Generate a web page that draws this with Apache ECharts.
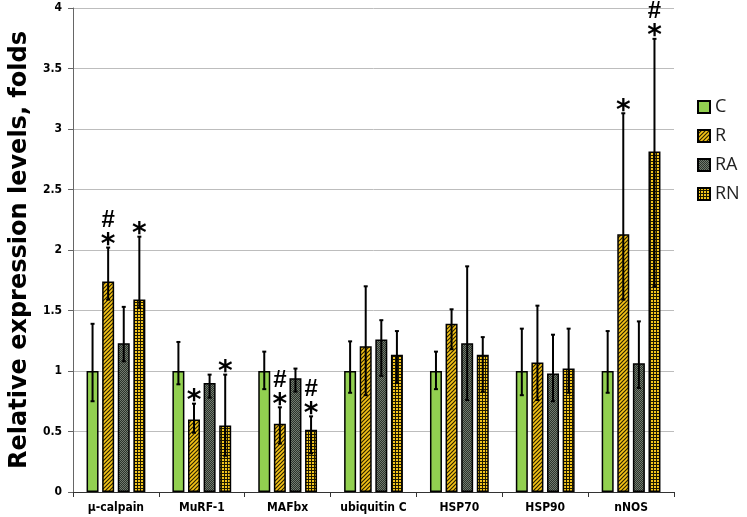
<!DOCTYPE html>
<html>
<head>
<meta charset="utf-8">
<script src="https://cdn.jsdelivr.net/npm/echarts@6/dist/echarts.min.js"></script>
<style>
  html, body { margin: 0; padding: 0; background: #fff; }
  #chart { width: 747px; height: 517px; }
</style>
</head>
<body>
<div id="chart"></div>
<script>
// categories and groups
const categories = ['μ-calpain', 'MuRF-1', 'MAFbx', 'ubiquitin C', 'HSP70', 'HSP90', 'nNOS']
const groups = ['C', 'R', 'RA', 'RN']

// bar heights (folds)
const valC  = [1.0, 1.0, 1.0, 1.0, 1.0, 1.0, 1.0]
const valR  = [1.74, 0.60, 0.565, 1.205, 1.39, 1.07, 2.13]
const valRA = [1.23, 0.90, 0.94, 1.26, 1.23, 0.98, 1.065]
const valRN = [1.59, 0.55, 0.515, 1.135, 1.135, 1.02, 2.815]

// error bar ends (upper / lower)
const topC  = [1.39, 1.24, 1.16, 1.245, 1.16, 1.35, 1.33]
const topR  = [2.02, 0.73, 0.70, 1.70, 1.51, 1.54, 3.13]
const topRA = [1.53, 0.97, 1.02, 1.42, 1.865, 1.30, 1.41]
const topRN = [2.11, 0.97, 0.625, 1.33, 1.28, 1.35, 3.745]
const lowC  = [0.75, 0.89, 0.85, 0.82, 0.85, 0.80, 0.82]
const lowR  = [1.59, 0.49, 0.40, 0.80, 1.18, 0.76, 1.59]
const lowRA = [1.08, 0.78, 0.83, 0.96, 0.76, 0.75, 0.86]
const lowRN = [1.52, 0.30, 0.32, 0.90, 0.83, 0.82, 1.70]

// significance marks above the bars
const marksC  = ['', '', '', '', '', '', '']
const marksR  = ['#*', '*', '#*', '', '', '', '*']
const marksRA = ['', '', '', '', '', '', '']
const marksRN = ['*', '*', '#*', '', '', '', '#*']

const values = [valC, valR, valRA, valRN]
const tops = [topC, topR, topRA, topRN]
const lows = [lowC, lowR, lowRA, lowRN]
const marks = [marksC, marksR, marksRA, marksRN]

const BAR_W = 12
const BAR_GAP = 3.6
const LABEL_FONT = '"DejaVu Sans Condensed", "DejaVu Sans"'

// fill patterns
function makePattern(kind) {
  const c = document.createElement('canvas')
  const ctx = c.getContext('2d')
  if (kind === 'stripe') {
    c.width = 4; c.height = 4
    ctx.fillStyle = '#f6c417'
    ctx.fillRect(0, 0, 4, 4)
    ctx.strokeStyle = '#2a2200'
    ctx.lineWidth = 1.2
    ctx.beginPath()
    ctx.moveTo(-1, 5); ctx.lineTo(5, -1)
    ctx.moveTo(-3, 3); ctx.lineTo(3, -3)
    ctx.moveTo(1, 7); ctx.lineTo(7, 1)
    ctx.stroke()
  } else if (kind === 'dark') {
    c.width = 2; c.height = 2
    ctx.fillStyle = '#2c342b'
    ctx.fillRect(0, 0, 2, 2)
    ctx.fillStyle = '#737b70'
    ctx.fillRect(0, 0, 1, 1)
    ctx.fillRect(1, 1, 1, 1)
  } else {
    c.width = 3; c.height = 3
    ctx.fillStyle = '#1e1a00'
    ctx.fillRect(0, 0, 3, 3)
    ctx.fillStyle = '#f4c51c'
    ctx.fillRect(0, 0, 2, 2)
  }
  return { image: c, repeat: 'repeat' }
}

const fills = ['#92d050', makePattern('stripe'), makePattern('dark'), makePattern('check')]

const errData = []
const errMarks = []
groups.forEach((g, gi) => {
  categories.forEach((cat, ci) => {
    errData.push([ci, lows[gi][ci], tops[gi][ci], gi])
    errMarks.push(marks[gi][ci])
  })
})

function renderErr(params, api) {
  const ci = api.value(0)
  const lo = api.value(1)
  const hi = api.value(2)
  const gi = api.value(3)
  const total = 4 * BAR_W + 3 * BAR_GAP
  const cx = api.coord([ci, 0])[0]
  const x = cx - total / 2 + gi * (BAR_W + BAR_GAP) + BAR_W / 2
  const yHi = api.coord([ci, hi])[1]
  const yLo = api.coord([ci, lo])[1]
  const lineStyle = { stroke: '#000', lineWidth: 2 }
  const children = [
    { type: 'line', shape: { x1: x, y1: yHi, x2: x, y2: yLo }, style: lineStyle },
    { type: 'line', shape: { x1: x - 2, y1: yHi, x2: x + 2, y2: yHi }, style: lineStyle },
    { type: 'line', shape: { x1: x - 2, y1: yLo, x2: x + 2, y2: yLo }, style: lineStyle }
  ]
  const m = errMarks[params.dataIndex]
  if (m.indexOf('*') >= 0) {
    children.push({ type: 'text', style: { text: '*', x: x, y: yHi + 12, textAlign: 'center', textVerticalAlign: 'bottom', font: 'bold 28px "DejaVu Sans"', fill: '#000' } })
  }
  if (m.indexOf('#') >= 0) {
    children.push({ type: 'text', style: { text: '#', x: x, y: yHi - 15, textAlign: 'center', textVerticalAlign: 'bottom', font: 'bold 24px "Liberation Sans"', fill: '#000' } })
  }
  return { type: 'group', children: children }
}

const chart = echarts.init(document.getElementById('chart'), null, { renderer: 'canvas' })

const barSeries = groups.map((g, gi) => ({
  name: g,
  type: 'bar',
  data: values[gi],
  barWidth: BAR_W,
  barGap: (BAR_GAP / BAR_W * 100) + '%',
  itemStyle: { color: fills[gi], borderColor: '#000', borderWidth: 1.5 },
  emphasis: { disabled: true }
}))

chart.setOption({
  animation: false,
  grid: { left: 66, right: 73, top: 8, bottom: 25 },
  legend: {
    orient: 'vertical',
    left: 692,
    top: 93,
    itemWidth: 12,
    itemHeight: 12,
    itemGap: 11,
    icon: 'rect',
    data: groups,
    textStyle: { fontFamily: 'Open Sans', fontSize: 18, color: '#222' }
  },
  xAxis: {
    type: 'category',
    data: categories,
    axisLine: { lineStyle: { color: '#333', width: 1 } },
    axisTick: { show: true, length: 5, lineStyle: { color: '#333' } },
    axisLabel: { interval: 0, color: '#000', fontFamily: LABEL_FONT, fontWeight: 'bold', fontSize: 12, margin: 10 }
  },
  yAxis: {
    type: 'value',
    min: 0,
    max: 4,
    interval: 0.5,
    name: 'Relative expression levels, folds',
    nameLocation: 'middle',
    nameGap: 32,
    nameTextStyle: { color: '#000', fontFamily: 'DejaVu Sans', fontWeight: 'bold', fontSize: 24 },
    axisLine: { show: true, lineStyle: { color: '#666' } },
    axisTick: { show: true, length: 5, lineStyle: { color: '#666' } },
    axisLabel: { color: '#000', fontFamily: LABEL_FONT, fontWeight: 'bold', fontSize: 12, margin: 11 },
    splitLine: { lineStyle: { color: '#bdbdbd' } }
  },
  series: barSeries.concat([{
    type: 'custom',
    renderItem: renderErr,
    data: errData,
    z: 10,
    silent: true
  }])
})
</script>
</body>
</html>
